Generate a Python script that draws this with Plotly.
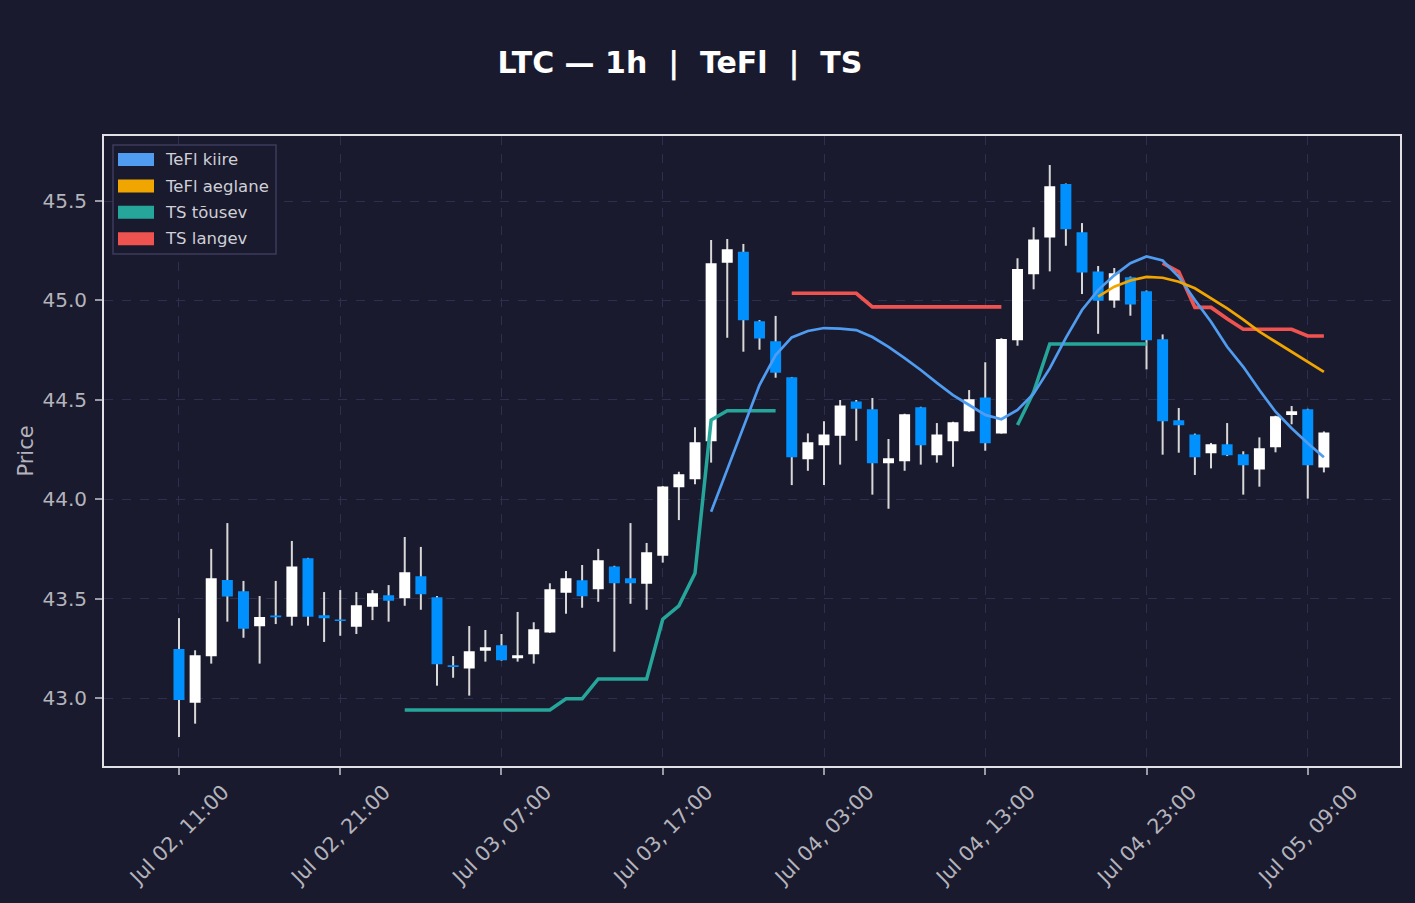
import pandas as pd
import plotly.graph_objects as go

# ---------------- data ----------------
start = pd.Timestamp("2025-07-02 11:00")
times = [start + pd.Timedelta(hours=i) for i in range(72)]

opens = [43.246, 42.976, 43.210, 43.594, 43.537, 43.361, 43.415, 43.409, 43.703, 43.416,
         43.395, 43.359, 43.459, 43.517, 43.502, 43.612, 43.507, 43.165, 43.149, 43.238,
         43.265, 43.200, 43.220, 43.330, 43.530, 43.592, 43.547, 43.662, 43.602, 43.575,
         43.716, 44.060, 44.100, 44.291, 45.190, 45.245, 44.895, 44.794, 44.613, 44.201,
         44.271, 44.319, 44.492, 44.452, 44.181, 44.191, 44.462, 44.221, 44.291, 44.342,
         44.511, 44.331, 44.799, 45.131, 45.317, 45.586, 45.343, 45.146, 45.000, 45.116,
         45.046, 44.804, 44.397, 44.326, 44.231, 44.276, 44.226, 44.150, 44.261, 44.424,
         44.452, 44.160]
highs = [43.402, 43.240, 43.750, 43.880, 43.589, 43.513, 43.589, 43.790, 43.705, 43.533,
         43.543, 43.533, 43.543, 43.568, 43.810, 43.760, 43.513, 43.211, 43.362, 43.342,
         43.322, 43.433, 43.381, 43.577, 43.639, 43.669, 43.750, 43.665, 43.880, 43.780,
         44.066, 44.138, 44.362, 45.304, 45.309, 45.284, 44.901, 44.922, 44.615, 44.331,
         44.392, 44.499, 44.499, 44.509, 44.303, 44.430, 44.465, 44.383, 44.390, 44.549,
         44.689, 44.810, 45.212, 45.368, 45.681, 45.588, 45.389, 45.173, 45.163, 45.120,
         45.050, 44.829, 44.459, 44.330, 44.283, 44.383, 44.241, 44.311, 44.420, 44.469,
         44.455, 44.341]
lows = [42.804, 42.871, 43.173, 43.384, 43.303, 43.173, 43.372, 43.364, 43.364, 43.282,
        43.313, 43.322, 43.392, 43.384, 43.464, 43.444, 43.062, 43.102, 43.012, 43.183,
        43.188, 43.183, 43.173, 43.328, 43.424, 43.454, 43.484, 43.233, 43.474, 43.444,
        43.681, 43.895, 44.075, 44.184, 44.812, 44.742, 44.752, 44.611, 44.071, 44.143,
        44.071, 44.174, 44.294, 44.023, 43.952, 44.143, 44.174, 44.184, 44.163, 44.340,
        44.244, 44.330, 44.772, 45.056, 45.146, 45.275, 45.032, 44.832, 44.963, 44.923,
        44.653, 44.224, 44.234, 44.122, 44.155, 44.217, 44.023, 44.063, 44.236, 44.377,
        44.003, 44.135]
closes = [42.990, 43.215, 43.602, 43.510, 43.349, 43.407, 43.406, 43.662, 43.409, 43.401,
          43.387, 43.466, 43.527, 43.489, 43.632, 43.522, 43.170, 43.156, 43.235, 43.255,
          43.190, 43.215, 43.346, 43.547, 43.602, 43.512, 43.693, 43.577, 43.577, 43.733,
          44.064, 44.125, 44.286, 45.187, 45.257, 44.900, 44.809, 44.636, 44.211, 44.286,
          44.326, 44.472, 44.455, 44.181, 44.206, 44.427, 44.271, 44.326, 44.387, 44.503,
          44.281, 44.806, 45.158, 45.307, 45.574, 45.358, 45.141, 44.998, 45.136, 44.980,
          44.799, 44.392, 44.372, 44.211, 44.276, 44.221, 44.171, 44.256, 44.417, 44.442,
          44.171, 44.336]

N = None
tefl_fast = [N] * 33 + [
    43.937, 44.148, 44.359, 44.574, 44.725, 44.814, 44.846, 44.861, 44.858, 44.851,
    44.816, 44.766, 44.710, 44.650, 44.585, 44.524, 44.474, 44.424, 44.402, 44.449,
    44.531, 44.658, 44.812, 44.952, 45.052, 45.126, 45.187, 45.221, 45.201, 45.119,
    45.002, 44.893, 44.767, 44.666, 44.549, 44.440, 44.357, 44.281, 44.211]
tefl_slow = [N] * 57 + [
    45.019, 45.069, 45.100, 45.118, 45.114, 45.094, 45.061, 45.011, 44.960, 44.903,
    44.843, 44.792, 44.742, 44.692, 44.641]
ts_up = [N] * 14 + [
    42.940, 42.940, 42.940, 42.940, 42.940, 42.940, 42.940, 42.940, 42.940, 42.940,
    42.996, 42.996, 43.096, 43.096, 43.096, 43.096, 43.396, 43.464, 43.627, 44.398,
    44.445, 44.445, 44.445, 44.445] + [N] * 14 + [
    44.373, 44.539, 44.781, 44.781, 44.781, 44.781, 44.781, 44.781, 44.781] + [N] * 11
ts_down = [N] * 38 + [
    45.036, 45.036, 45.036, 45.036, 45.036, 44.967, 44.967, 44.967, 44.967, 44.967,
    44.967, 44.967, 44.967, 44.967] + [N] * 9 + [
    45.187, 45.144, 44.965, 44.965, 44.908, 44.855, 44.855, 44.855, 44.855, 44.821,
    44.821]

tick_times = [start + pd.Timedelta(hours=10 * k) for k in range(8)]
tick_labels = ["Jul 02, 11:00", "Jul 02, 21:00", "Jul 03, 07:00", "Jul 03, 17:00",
               "Jul 04, 03:00", "Jul 04, 13:00", "Jul 04, 23:00", "Jul 05, 09:00"]
y_ticks = [43.0, 43.5, 44.0, 44.5, 45.0, 45.5]

legend_names = ["TeFl kiire", "TeFl aeglane", "TS tõusev", "TS langev"]

# ---------------- style ----------------
BG = "#1a1a2e"
UP = "#ffffff"
DOWN = "#0091ff"
WICK = "#d8d8d8"
C_FAST = "#4f9cf0"
C_SLOW = "#f0a500"
C_UP = "#26a69a"
C_DOWN = "#ef5350"
GRID = "#2e2e50"
TXT = "#b4b4bc"
FONT = "DejaVu Sans"

W, H = 1415, 903
L, R, T, B = 104, 1400, 136, 766
PX_PER_HOUR = (R - L) / 80.37
WICK_MS = 2.0 / PX_PER_HOUR * 3600 * 1000

fig = go.Figure()

# wicks (bar layer sits below the candle bodies)
fig.add_trace(go.Bar(
    x=times, y=[h - l for h, l in zip(highs, lows)], base=lows,
    width=WICK_MS, marker=dict(color=WICK, line=dict(width=0)),
    hoverinfo="skip", showlegend=False))

fig.add_trace(go.Candlestick(
    x=times, open=opens, high=highs, low=lows, close=closes,
    increasing=dict(fillcolor=UP, line=dict(color=UP, width=0)),
    decreasing=dict(fillcolor=DOWN, line=dict(color=DOWN, width=0)),
    showlegend=False, name="LTC"))

fig.add_trace(go.Scatter(x=times, y=ts_up, mode="lines", name=legend_names[2],
                         line=dict(color=C_UP, width=3.5), showlegend=False))
fig.add_trace(go.Scatter(x=times, y=ts_down, mode="lines", name=legend_names[3],
                         line=dict(color=C_DOWN, width=3.7), showlegend=False))
fig.add_trace(go.Scatter(x=times, y=tefl_fast, mode="lines", name=legend_names[0],
                         line=dict(color=C_FAST, width=2.7), showlegend=False))
fig.add_trace(go.Scatter(x=times, y=tefl_slow, mode="lines", name=legend_names[1],
                         line=dict(color=C_SLOW, width=2.7), showlegend=False))

# ---------------- layout ----------------


def xp(px):
    return (px - L) / (R - L)


def yp(py):
    return (B - py) / (B - T)


shapes = []
annotations = []
# legend box
shapes.append(dict(type="rect", xref="paper", yref="paper",
                   x0=xp(113), x1=xp(276), y0=yp(254), y1=yp(145),
                   fillcolor=BG, line=dict(color="#3c3c5e", width=1.5), layer="above"))
leg_colors = [C_FAST, C_SLOW, C_UP, C_DOWN]
leg_rows = [159.5, 186, 212.3, 238.7]
for name, col, cy in zip(legend_names, leg_colors, leg_rows):
    shapes.append(dict(type="rect", xref="paper", yref="paper",
                       x0=xp(118), x1=xp(154), y0=yp(cy + 6.5), y1=yp(cy - 6.5),
                       fillcolor=col, line=dict(width=0), layer="above"))
    annotations.append(dict(xref="paper", yref="paper", x=xp(164), y=yp(cy),
                            xanchor="left", yanchor="middle", showarrow=False,
                            borderpad=0,
                            text=name, font=dict(family=FONT, size=16.5, color="#cfcfd6")))

x_lo = start - pd.Timedelta(hours=4.65)
x_hi = start + pd.Timedelta(hours=75.72)

fig.update_layout(
    width=W, height=H,
    paper_bgcolor=BG, plot_bgcolor=BG,
    margin=dict(l=L, r=W - R, t=T, b=H - B),
    showlegend=False,
    boxgap=0.32, boxgroupgap=0, barmode="overlay",
    shapes=shapes, annotations=annotations,
    title=dict(text="LTC — 1h\u00a0\u00a0|\u00a0\u00a0TeFl\u00a0\u00a0|\u00a0\u00a0TS",
               xref="container", yref="container", x=680 / W, y=1 - 62 / H,
               xanchor="center", yanchor="middle",
               font=dict(family=FONT, size=30, color="#ffffff", weight="bold")),
    font=dict(family=FONT, color=TXT),
    xaxis=dict(
        type="date", range=[x_lo, x_hi],
        rangeslider=dict(visible=False),
        tickmode="array", tickvals=tick_times, ticktext=tick_labels,
        tickangle=-45, tickfont=dict(family=FONT, size=20.5, color=TXT),
        ticklabelshift=44, ticklabelstandoff=-3,
        ticks="outside", ticklen=7, tickwidth=1.5, tickcolor="#9a9aa6",
        showgrid=True, gridcolor=GRID, griddash="dash", gridwidth=1.2,
        showline=True, linecolor="#e0e0e6", linewidth=2, mirror=True,
        zeroline=False,
    ),
    yaxis=dict(
        range=[42.658, 45.827],
        tickmode="array", tickvals=y_ticks, ticktext=[f"{v:.1f}" for v in y_ticks],
        tickfont=dict(family=FONT, size=20, color=TXT),
        ticks="outside", ticklen=7, tickwidth=1.5, tickcolor="#9a9aa6",
        ticklabelstandoff=4,
        showgrid=True, gridcolor=GRID, griddash="dash", gridwidth=1.2,
        showline=True, linecolor="#e0e0e6", linewidth=2, mirror=True,
        zeroline=False,
        title=dict(text="Price", font=dict(family=FONT, size=21, color=TXT), standoff=3),
    ),
)

fig.write_html("out.html")
